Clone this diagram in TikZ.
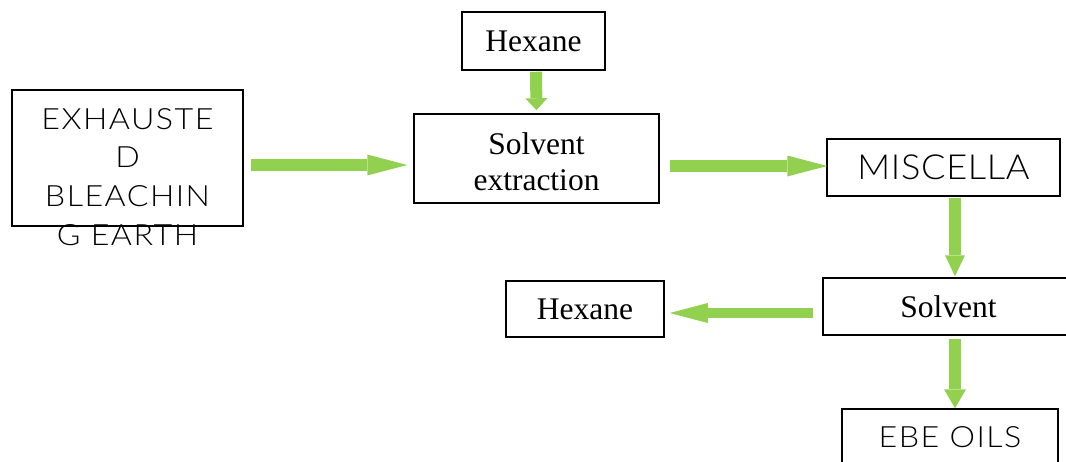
\documentclass[tikz,border=0pt]{standalone}
\usepackage{fontspec}
\setmainfont{Liberation Serif}
\IfFontExistsTF{Lato Light}{%
  \newfontfamily\lsans[FakeStretch=1.1,LetterSpace=5]{Lato Light}%
  \newfontfamily\lsansb[FakeStretch=1.05,LetterSpace=2]{Lato Light}}{%
  \newfontfamily\lsans[FakeStretch=1.1,LetterSpace=5]{Lato}%
  \newfontfamily\lsansb[FakeStretch=1.05,LetterSpace=2]{Lato}}
\usetikzlibrary{arrows.meta,calc}
\definecolor{agreen}{RGB}{146,208,80}
\tikzset{
  box/.style={draw=black, line width=1.5pt, inner sep=0pt, fill=white},
  serif/.style={font=\fontsize{31.5}{36}\selectfont},
  garrow/.style={draw=agreen, line width=#1},
}
\begin{document}
\begin{tikzpicture}[x=1pt,y=-1pt]
\useasboundingbox (0,0) rectangle (1066,461);
\clip (0,0) rectangle (1066,461);
% boxes
\node[box, minimum width=231pt, minimum height=136pt] (ex) at (127.5,158) {};
\node[box, serif, minimum width=143pt, minimum height=58pt] (hexT) at (533.5,41) {Hexane};
\node[box, serif, align=center, minimum width=245pt, minimum height=89pt] (se) at (536.5,158.5) {\rule{0pt}{28.5pt}Solvent\\extraction};
\node[box, minimum width=233pt, minimum height=57pt, font=\lsansb\fontsize{34.5}{40}\selectfont] (mi) at (943.5,167.5) {MISCELLA};
\node[box, serif, minimum width=251pt, minimum height=57pt] (so) at (948.5,306.5) {Solvent};
\node[box, serif, minimum width=158pt, minimum height=56pt] (hexB) at (585,309) {Hexane};
\node[box, minimum width=216pt, minimum height=57pt, font=\lsans\fontsize{29.3}{36}\selectfont] (ebe) at (950,437.5) {EBE OILS};
% exhausted text (overflows box)
\begin{scope}[every node/.style={anchor=base, inner sep=0pt, font=\lsans\fontsize{29.3}{36}\selectfont}]
\node (exa) at (127.5,129) {EXHAUSTE};
\node (exb) at (127.5,167) {D};
\node (exc) at (127.5,206) {BLEACHIN};
\node (exd) at (127.5,245) {G EARTH};
\end{scope}
% arrows
\draw[garrow=11.5pt, -{Triangle[length=40pt,width=21pt,line width=0pt]}]
  ($(ex.east)+(7,7)$) -- ($(se.west)+(-6,6.5)$);
\draw[garrow=11.5pt, -{Triangle[length=40pt,width=21pt,line width=0pt]}]
  ($(se.east)+(10,7.5)$) -- ($(mi.west)+(1,-1.5)$);
\draw[garrow=12pt, -{Triangle[length=12pt,width=22pt,line width=0pt]}]
  ($(hexT.south)+(2.5,1)$) -- ($(se.north)+(0,-3)$);
\draw[garrow=11.5pt, -{Triangle[length=21pt,width=20pt,line width=0pt]}]
  ($(mi.south)+(11.5,1)$) -- ($(so.north)+(6.5,-1)$);
\draw[garrow=10pt, -{Triangle[length=38pt,width=20pt,line width=0pt]}]
  ($(so.west)+(-9,6.5)$) -- ($(hexB.east)+(5,4)$);
\draw[garrow=12pt, -{Triangle[length=19pt,width=22pt,line width=0pt]}]
  ($(so.south)+(6.5,3)$) -- ($(ebe.north)+(5,0)$);
\end{tikzpicture}
\end{document}
